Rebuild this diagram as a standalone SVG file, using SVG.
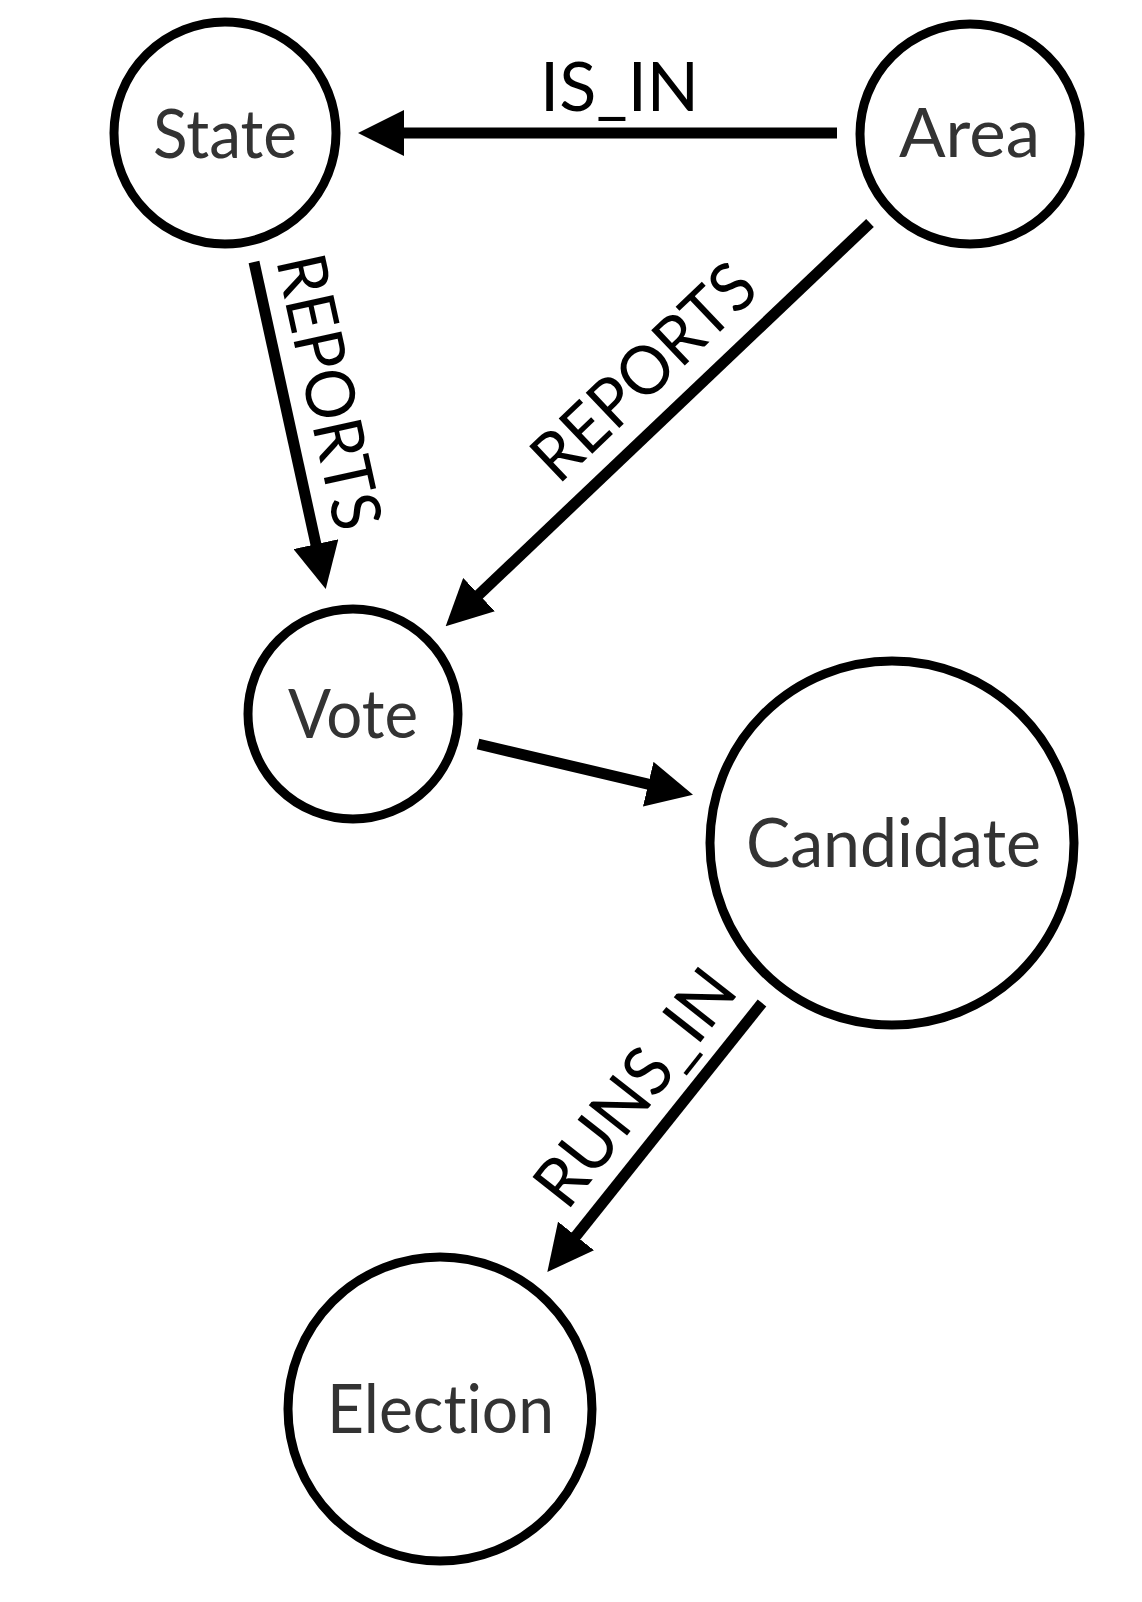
<svg xmlns="http://www.w3.org/2000/svg" width="1142" height="1602" viewBox="0 0 1142 1602">
<style>
.node circle{fill:#fff;stroke:#000;stroke-width:9}
.node text{font-family:Lato,"Open Sans","Liberation Sans",sans-serif;font-size:68px;fill:#333;text-anchor:middle;font-variant-ligatures:none;font-feature-settings:"liga" 0}
.edge line{stroke:#000;stroke-width:11;fill:none}
.elabel{font-family:Lato,"Open Sans","Liberation Sans",sans-serif;font-size:68px;fill:#000;text-anchor:middle;font-variant-ligatures:none}
</style>
<defs>
<marker id="arrow" viewBox="0 0 46 46" refX="1" refY="23" markerWidth="46" markerHeight="46" markerUnits="userSpaceOnUse" orient="auto">
<path d="M0,0 L46,23 L0,46 Z" fill="#000"/>
</marker>
</defs>
<rect width="1142" height="1602" fill="#fff"/>
<g id="edges" class="edge">
<g id="e-isin"><line x1="837" y1="133" x2="403" y2="133" marker-end="url(#arrow)"/>
<text class="elabel" x="619.5" y="111" textLength="159" lengthAdjust="spacingAndGlyphs">IS_IN</text></g>
<g id="e-state-vote"><line x1="254" y1="262" x2="316.1" y2="545.1" marker-end="url(#arrow)"/>
<text class="elabel" transform="translate(306,397) rotate(77.6)" textLength="280" lengthAdjust="spacingAndGlyphs">REPORTS</text></g>
<g id="e-area-vote"><line x1="870" y1="223" x2="478.3" y2="595.3" marker-end="url(#arrow)"/>
<text class="elabel" transform="translate(660,389) rotate(-43.6)" textLength="280" lengthAdjust="spacingAndGlyphs">REPORTS</text></g>
<g id="e-vote-cand"><line x1="478" y1="744" x2="649.2" y2="784.4" marker-end="url(#arrow)"/></g>
<g id="e-cand-elec"><line x1="762" y1="1003" x2="575.4" y2="1236.8" marker-end="url(#arrow)"/>
<text class="elabel" transform="translate(653.5,1102) rotate(-51.8)" textLength="280" lengthAdjust="spacingAndGlyphs">RUNS_IN</text></g>
</g>
<g id="node-state" class="node"><circle cx="225" cy="133" r="111"/><text x="225" y="158" textLength="144" lengthAdjust="spacingAndGlyphs">State</text></g>
<g id="node-area" class="node"><circle cx="970" cy="134" r="110"/><text x="969.5" y="157" textLength="141" lengthAdjust="spacingAndGlyphs">Area</text></g>
<g id="node-vote" class="node"><circle cx="353" cy="714" r="105"/><text x="353" y="738" textLength="130" lengthAdjust="spacingAndGlyphs">Vote</text></g>
<g id="node-candidate" class="node"><circle cx="892" cy="843" r="182"/><text x="893.5" y="867" textLength="295" lengthAdjust="spacingAndGlyphs">Candidate</text></g>
<g id="node-election" class="node"><circle cx="440" cy="1409" r="152"/><text x="440.5" y="1433" textLength="227" lengthAdjust="spacingAndGlyphs">Election</text></g>
</svg>
